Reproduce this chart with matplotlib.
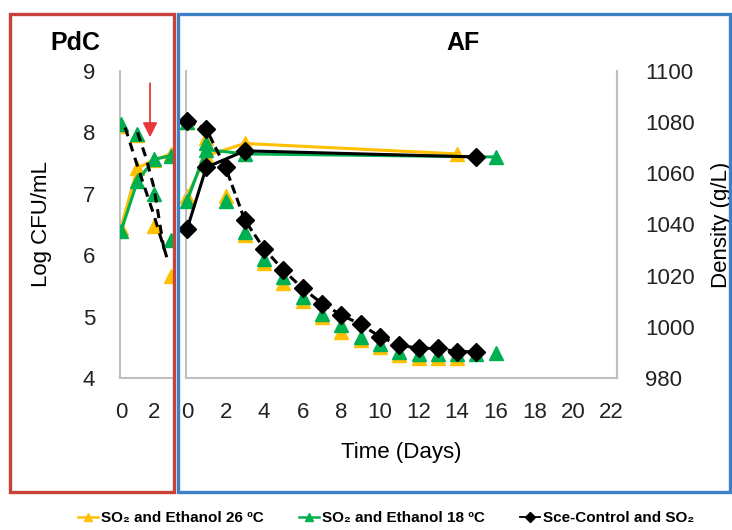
import matplotlib
matplotlib.use("Agg")
import matplotlib.pyplot as plt
from matplotlib.patches import Rectangle
from matplotlib.lines import Line2D

plt.rcParams['font.family'] = ['Liberation Sans', 'DejaVu Sans']

YELLOW = '#ffc000'
GREEN = '#00b050'
BLACK = '#000000'
GRAY = '#bfbfbf'

# ---------------- PdC data (Log CFU/mL) ----------------
pdc_days = [0, 1, 2, 3]
pdc_26_grow = [6.45, 7.42, 7.55, 7.65]
pdc_18_grow = [6.39, 7.21, 7.56, 7.62]
pdc_26_decl = [8.10, 7.95, 6.47, 5.66]
pdc_18_decl = [8.13, 7.98, 6.99, 6.25]
pdc_ctrl_a_days = [0.25, 1.0, 2.0, 2.85]
pdc_ctrl_a = [8.08, 7.45, 6.65, 5.90]
pdc_ctrl_b_days = [1.0, 1.5, 2.0, 2.6]
pdc_ctrl_b = [8.00, 7.60, 7.10, 6.10]

# ---------------- AF data ----------------
# growth (Log CFU/mL)
af_26_grow_days = [0, 1, 3, 14]
af_26_grow = [6.96, 7.62, 7.82, 7.65]
af_18_grow_days = [0, 1, 3, 16]
af_18_grow = [6.88, 7.72, 7.65, 7.60]
af_ctrl_grow_days = [0, 1, 3, 15]
af_ctrl_grow = [6.42, 7.43, 7.70, 7.60]

# density (g/L)
af_26_dens_days = list(range(0, 15))
af_26_dens = [1080, 1074, 1051, 1036, 1025, 1017, 1010, 1004, 998, 995,
              992, 989, 988, 988, 988]
af_18_dens_days = list(range(0, 17))
af_18_dens = [1080, 1072, 1049, 1037, 1026.5, 1019.5, 1011.7, 1005.2, 1000.7,
              996.1, 993.3, 990.3, 989.3, 989.3, 989.3, 989.3, 989.8]
af_ctrl_dens_days = list(range(0, 16))
af_ctrl_dens = [1080.5, 1077.3, 1062.3, 1041.6, 1030.5, 1022.1, 1015.0, 1009.1,
                1004.6, 1001.0, 996.1, 992.9, 991.6, 991.6, 990.3, 990.3]

log_ticks = [4, 5, 6, 7, 8, 9]
dens_ticks = [980, 1000, 1020, 1040, 1060, 1080, 1100]
pdc_xticks = [0, 2]
af_xticks = list(range(0, 23, 2))

legend_labels = ['SO\u2082 and Ethanol 26 \u00baC',
                 'SO\u2082 and Ethanol 18 \u00baC',
                 'Sce-Control and SO\u2082']

W, H = 732, 530
fig = plt.figure(figsize=(W / 100, H / 100), dpi=100)

def fx(px):
    return px / W

def fy(py):
    return 1 - py / H

bottom = fy(378)
height = fy(71) - bottom

TICK_FS = 16
LABEL_FS = 16
MS_TRI = 10
MS_DIA = 9
LW = 2.2

# ---------------- PdC axes ----------------
axL = fig.add_axes([fx(120), bottom, fx(172) - fx(120), height])
axL.set_xlim(-0.06, 3.09)
axL.set_ylim(4, 9)
axL.plot(pdc_days, pdc_26_decl, ls='none', marker='^', ms=MS_TRI, color=YELLOW, zorder=2)
axL.plot(pdc_days, pdc_18_decl, ls='none', marker='^', ms=MS_TRI, color=GREEN, zorder=3)
axL.plot(pdc_days, pdc_26_grow, '-', marker='^', ms=MS_TRI, lw=LW, color=YELLOW, zorder=2)
axL.plot(pdc_days, pdc_18_grow, '-', marker='^', ms=MS_TRI, lw=LW, color=GREEN, zorder=3)
axL.plot(pdc_ctrl_a_days, pdc_ctrl_a, ls=(0, (3, 2.2)), lw=2.2, color=BLACK, zorder=4)
axL.plot(pdc_ctrl_b_days, pdc_ctrl_b, ls=(0, (3, 2.2)), lw=2.2, color=BLACK, zorder=4)
axL.annotate('', xy=(1.76, 7.92), xytext=(1.76, 8.8),
             arrowprops=dict(arrowstyle='-|>', color='#e8383d', lw=1.3,
                             mutation_scale=22, shrinkA=0, shrinkB=0),
             annotation_clip=False)
axL.set_xticks(pdc_xticks)
axL.set_yticks(log_ticks)
for s in ['top', 'right']:
    axL.spines[s].set_visible(False)
for s in ['left', 'bottom']:
    axL.spines[s].set_color(GRAY)
    axL.spines[s].set_linewidth(1.5)
axL.tick_params(length=0, labelsize=TICK_FS, colors='#222222')
axL.tick_params(axis='y', pad=18)
axL.tick_params(axis='x', pad=17)
axL.set_ylabel('Log CFU/mL', fontsize=LABEL_FS, labelpad=22)

# ---------------- AF axes ----------------
axR = fig.add_axes([fx(186), bottom, fx(617) - fx(186), height])
axR.set_xlim(-0.05, 22.28)
axR.set_ylim(4, 9)
axR.plot(af_26_grow_days, af_26_grow, '-', marker='^', ms=MS_TRI, lw=LW, color=YELLOW, zorder=2, clip_on=False)
axR.plot(af_18_grow_days, af_18_grow, '-', marker='^', ms=MS_TRI, lw=LW, color=GREEN, zorder=3, clip_on=False)
axR.plot(af_ctrl_grow_days, af_ctrl_grow, '-', marker='D', ms=MS_DIA, lw=LW, color=BLACK, zorder=4, clip_on=False)
axR.set_xticks(af_xticks)
axR.set_yticks([])
axR.spines['top'].set_visible(False)
for s in ['left', 'bottom', 'right']:
    axR.spines[s].set_color(GRAY)
    axR.spines[s].set_linewidth(1.5)
axR.tick_params(length=0, labelsize=TICK_FS, colors='#222222')
axR.tick_params(axis='x', pad=17)
axR.set_xlabel('Time (Days)', fontsize=LABEL_FS, labelpad=14)

axD = axR.twinx()
axD.set_ylim(980, 1100)
axD.plot(af_26_dens_days, af_26_dens, ls='none', marker='^', ms=MS_TRI, color=YELLOW, zorder=2, clip_on=False)
axD.plot(af_18_dens_days, af_18_dens, ls='none', marker='^', ms=MS_TRI, color=GREEN, zorder=3, clip_on=False)
axD.plot(af_ctrl_dens_days, af_ctrl_dens, ls=(0, (3, 1.5)), marker='D', ms=MS_DIA, lw=LW,
         color=BLACK, zorder=4, clip_on=False)
axD.set_yticks(dens_ticks)
for s in ['top', 'left', 'bottom']:
    axD.spines[s].set_visible(False)
axD.spines['right'].set_color(GRAY)
axD.spines['right'].set_linewidth(1.5)
axD.tick_params(length=0, labelsize=TICK_FS, colors='#222222', pad=20)
axD.set_ylabel('Density (g/L)', fontsize=LABEL_FS, labelpad=12)

# ---------------- titles & boxes ----------------
fig.text(fx(75), fy(43), 'PdC', fontsize=18, fontweight='bold', ha='center', va='center')
fig.text(fx(463), fy(43), 'AF', fontsize=18, fontweight='bold', ha='center', va='center')

fig.patches.append(Rectangle((fx(10), fy(492)), fx(174) - fx(10), fy(14) - fy(492),
                             transform=fig.transFigure, fill=False,
                             edgecolor='#c8423a', lw=2.4))
fig.patches.append(Rectangle((fx(178), fy(492)), fx(730) - fx(178), fy(14) - fy(492),
                             transform=fig.transFigure, fill=False,
                             edgecolor='#3c80c8', lw=2.4))

# ---------------- legend ----------------
handles = [Line2D([], [], color=YELLOW, marker='^', ms=6, lw=1.8),
           Line2D([], [], color=GREEN, marker='^', ms=6, lw=1.8),
           Line2D([], [], color=BLACK, marker='D', ms=5, lw=1.3)]
fig.legend(handles, legend_labels, loc='center', bbox_to_anchor=(fx(386), fy(518)),
           ncol=3, frameon=False, handlelength=1.3, handletextpad=0.2,
           columnspacing=2.3,
           prop=dict(family=['Liberation Sans', 'DejaVu Sans'], weight='bold', size=11))

fig.savefig('out.png', dpi=100)
